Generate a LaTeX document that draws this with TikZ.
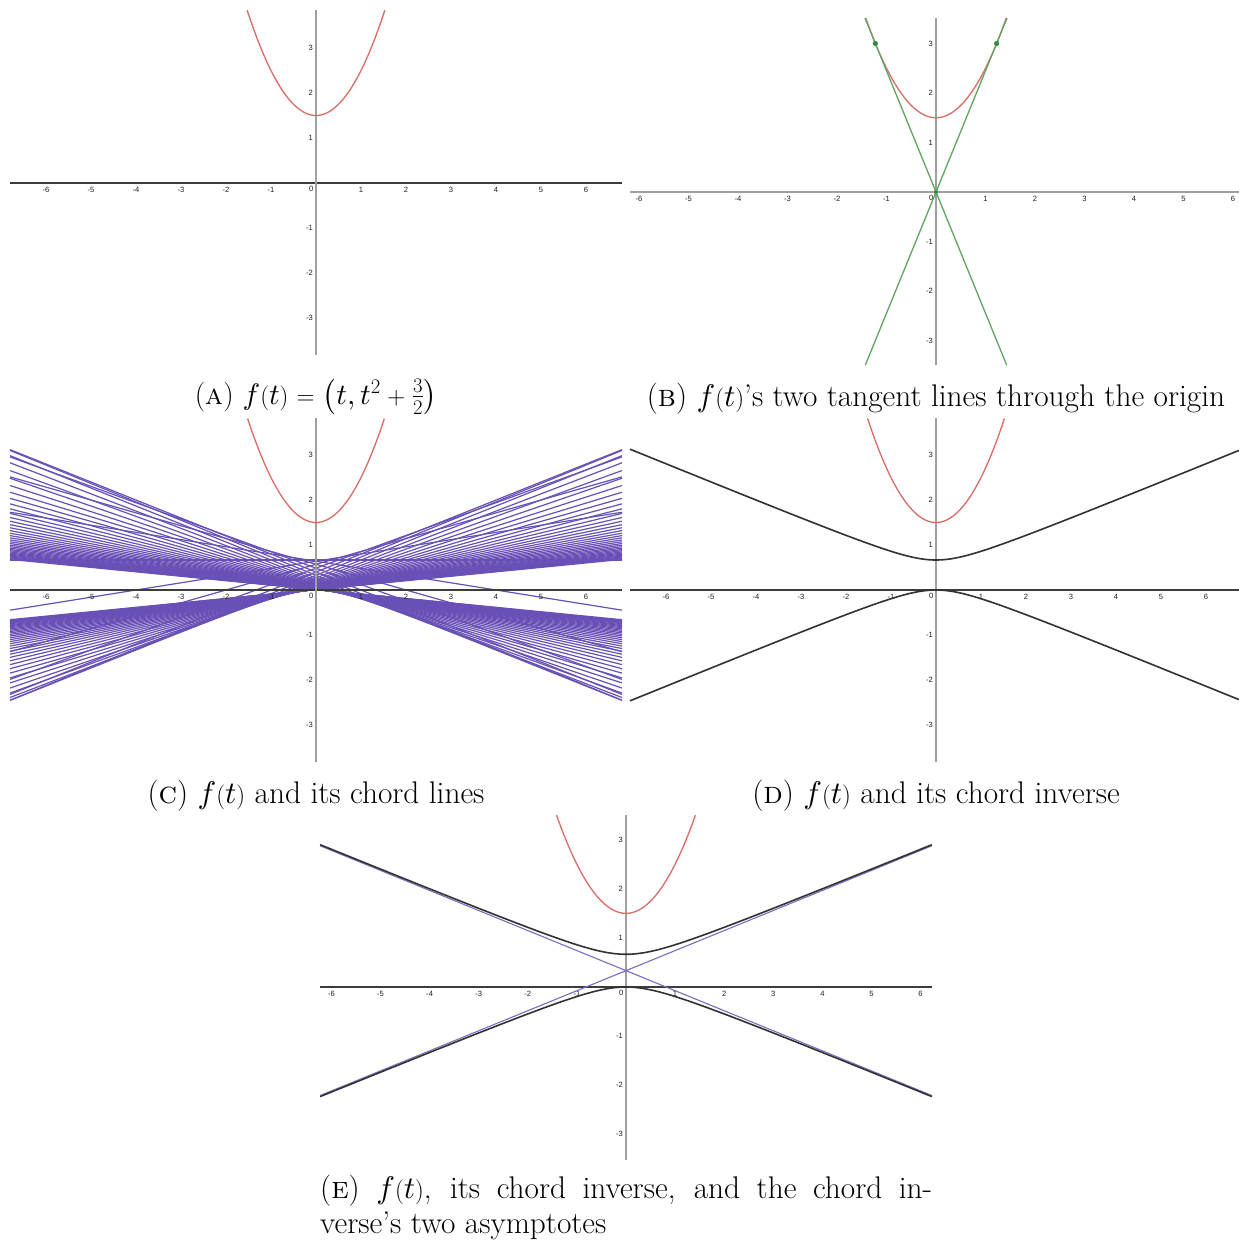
\documentclass[tikz,border=0pt]{standalone}
\DeclareFontFamily{OML}{cmm}{\skewchar\font127 }
\DeclareFontShape{OML}{cmm}{m}{it}{<->cmmi10}{}
\DeclareFontShape{OML}{cmm}{b}{it}{<->cmmib10}{}
\DeclareFontFamily{OMS}{cmsy}{\skewchar\font48 }
\DeclareFontShape{OMS}{cmsy}{m}{n}{<->cmsy10}{}
\DeclareFontShape{OMS}{cmsy}{b}{n}{<->cmbsy10}{}
\DeclareFontFamily{OMX}{cmex}{}
\DeclareFontShape{OMX}{cmex}{m}{n}{<->cmex10}{}
\usepackage{fontspec}
\newfontfamily\ticksf{Liberation Sans}
\definecolor{fred}{RGB}{217,108,100}
\definecolor{fgreen}{RGB}{96,165,96}
\definecolor{fdot}{RGB}{50,140,60}
\definecolor{fpurple}{RGB}{104,80,182}
\definecolor{fblack}{RGB}{50,50,50}
\definecolor{axdark}{RGB}{60,60,60}
\definecolor{axgray}{RGB}{160,160,160}
\definecolor{tickc}{RGB}{30,30,30}
\tikzset{
  xaxdark/.style={draw=axdark,line width=1.1pt},
  xaxgray/.style={draw=axgray,line width=2pt},
  yaxgray/.style={draw=axgray,line width=2pt},
  ticklab/.style={font=\ticksf\fontsize{7.6}{8}\selectfont,text=tickc,inner sep=0pt},
  redcurve/.style={draw=fred,line width=1.3pt},
  greenline/.style={draw=fgreen,line width=1.3pt},
  purpleline/.style={draw=fpurple,line width=1.2pt},
  purpleasym/.style={draw=fpurple!85,line width=1.1pt},
  blackcurve/.style={draw=fblack,line width=1.6pt},
  greendot/.style={fill=fdot},
  captxt/.style={font=\fontsize{31.3}{35}\selectfont,inner sep=0pt,anchor=base},
  captxtA/.style={font=\fontsize{29.5}{35}\selectfont,inner sep=0pt,anchor=base},
}
\newcommand\PanelAxes[6]{%
  \draw[#6] (#2,0) -- (#3,0);
  \draw[yaxgray] (0,#4) -- (0,#5);
  \foreach \k in {-6,-5,-4,-3,-2,-1,1,2,3,4,5,6}
    \node[ticklab,anchor=north,yshift=-4pt] (#1x\k) at (\k,0) {\k};
  \foreach \k in {-3,-2,-1,1,2,3}
    \node[ticklab,anchor=east,xshift=-3pt] (#1y\k) at (0,\k) {\k};
  \node[ticklab,anchor=north east,xshift=-2.5pt,yshift=-3pt] (#1zero) at (0,0) {0};
}
\begin{document}
\begin{tikzpicture}
\path[use as bounding box,fill=white] (0pt,0pt) rectangle (1239pt,-1240pt);

% ---------- Panel A ----------
\begin{scope}[shift={(316pt,-183pt)},x=45pt,y=45pt]
  \PanelAxes{A}{-6.8}{6.8}{-3.82}{3.84}{xaxdark}
  \draw[redcurve,domain=-1.53:1.53,samples=100] plot (\x,{\x*\x+1.5});
\end{scope}

% ---------- Panel B ----------
\begin{scope}[shift={(936pt,-192pt)},x=49.5pt,y=49.5pt]
  \PanelAxes{B}{-6.18}{6.12}{-3.5}{3.515}{xaxgray}
  \draw[redcurve,domain=-1.4195:1.4195,samples=100] plot (\x,{\x*\x+1.5});
  \coordinate (BtopL) at (-1.435,3.515);
  \coordinate (BtopR) at (1.435,3.515);
  \coordinate (BbotL) at (-1.429,-3.5);
  \coordinate (BbotR) at (1.429,-3.5);
  \draw[greenline] (BtopL) -- (BbotR);
  \draw[greenline] (BtopR) -- (BbotL);
  \fill[greendot] (-1.2247,3) circle (2.6pt);
  \fill[greendot] (1.2247,3) circle (2.6pt);
  \fill[greendot] (0,0) circle (2pt);
\end{scope}

% ---------- Panel C ----------
\begin{scope}[shift={(316pt,-590pt)},x=45pt,y=45pt]
  \foreach \t in {-10,-9.75,...,10.1}
    \draw[purpleline] (-6.8,{(1+6.8*\t)/(\t*\t+1.5)}) -- (6.8,{(1-6.8*\t)/(\t*\t+1.5)});
  \PanelAxes{C}{-6.8}{6.8}{-3.82}{3.82}{xaxdark}
  \draw[redcurve,domain=-1.52:1.52,samples=100] plot (\x,{\x*\x+1.5});
\end{scope}

% ---------- Panel D ----------
\begin{scope}[shift={(936pt,-590pt)},x=45pt,y=45pt]
  \PanelAxes{D}{-6.8}{6.73}{-3.82}{3.82}{xaxdark}
  \draw[redcurve,domain=-1.52:1.52,samples=100] plot (\x,{\x*\x+1.5});
  \draw[blackcurve,domain=-6.8:6.73,samples=160] plot (\x,{1/3+sqrt(1+1.5*\x*\x)/3});
  \draw[blackcurve,domain=-6.8:6.73,samples=160] plot (\x,{1/3-sqrt(1+1.5*\x*\x)/3});
\end{scope}

% ---------- Panel E ----------
\begin{scope}[shift={(626pt,-987pt)},x=49.1pt,y=49.1pt]
  \PanelAxes{E}{-6.23}{6.23}{-3.52}{3.5}{xaxdark}
  \draw[redcurve,domain=-1.414:1.414,samples=100] plot (\x,{\x*\x+1.5});
  \draw[purpleasym] (-6.23,{1/3+6.23/sqrt(6)}) -- (6.23,{1/3-6.23/sqrt(6)});
  \draw[purpleasym] (-6.23,{1/3-6.23/sqrt(6)}) -- (6.23,{1/3+6.23/sqrt(6)});
  \draw[blackcurve,domain=-6.23:6.23,samples=160] plot (\x,{1/3+sqrt(1+1.5*\x*\x)/3});
  \draw[blackcurve,domain=-6.23:6.23,samples=160] plot (\x,{1/3-sqrt(1+1.5*\x*\x)/3});
\end{scope}

% ---------- Captions ----------
\node[captxtA] (capA) at (316pt,-404pt) {(\textsc{a}) $f(t)=\left(t,t^2+\frac{3}{2}\right)$};
\node[captxt] (capB) at (936pt,-406pt) {(\textsc{b}) $f(t)$'s two tangent lines through the origin};
\node[captxt] (capC) at (316pt,-803pt) {(\textsc{c}) $f(t)$ and its chord lines};
\node[captxt] (capD) at (936pt,-803pt) {(\textsc{d}) $f(t)$ and its chord inverse};
\node[captxt,anchor=base west] (capE1) at (320pt,-1198pt) {\makebox[612pt][s]{(\textsc{e}) $f(t)$, its chord inverse, and the chord in-}};
\node[captxt,anchor=base west] (capE2) at (320pt,-1233pt) {verse's two asymptotes};
\end{tikzpicture}
\end{document}
